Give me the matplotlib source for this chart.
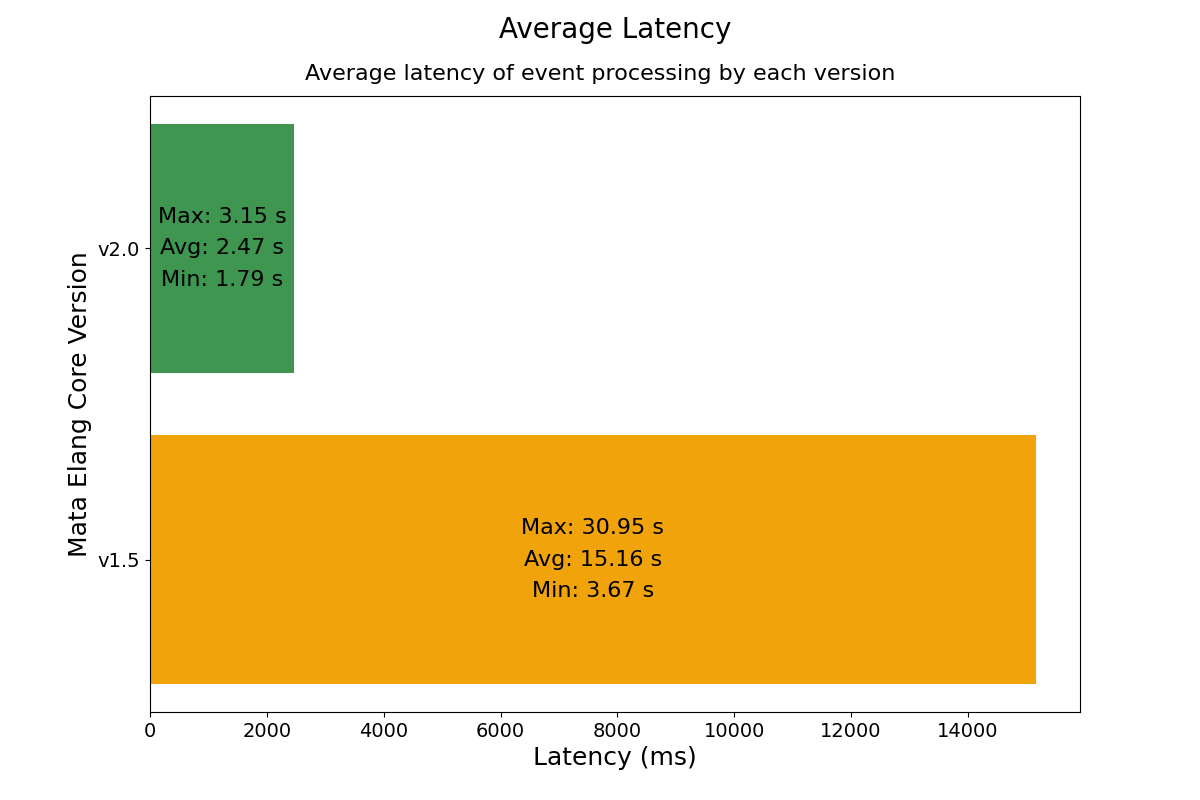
import matplotlib
matplotlib.use("Agg")
import matplotlib.pyplot as plt
from matplotlib.transforms import blended_transform_factory

versions = ["v1.5", "v2.0"]
avg_ms = [15160, 2470]
max_s = [30.95, 3.15]
avg_s = [15.16, 2.47]
min_s = [3.67, 1.79]
colors = ["#F0A30A", "#3E9651"]

fig, ax = plt.subplots(figsize=(12, 8), dpi=100)
bars = ax.barh(versions, avg_ms, color=colors)
for i, b in enumerate(bars):
    ax.text(b.get_width() / 2, b.get_y() + b.get_height() / 2,
            f"Max: {max_s[i]:.2f} s\nAvg: {avg_s[i]:.2f} s\nMin: {min_s[i]:.2f} s",
            ha="center", va="center", fontsize=16, linespacing=1.7)

# main title centred over the axes, subtitle centred on the figure
ax.text(0.5, 0.9625, "Average Latency", fontsize=20, ha="center", va="center",
        transform=blended_transform_factory(ax.transAxes, fig.transFigure))
fig.text(0.5, 0.9075, "Average latency of event processing by each version",
         fontsize=16, ha="center", va="center")
ax.set_xlabel("Latency (ms)", fontsize=18)
ax.set_ylabel("Mata Elang Core Version", fontsize=18)
ax.tick_params(labelsize=14)
fig.savefig("out.png")
